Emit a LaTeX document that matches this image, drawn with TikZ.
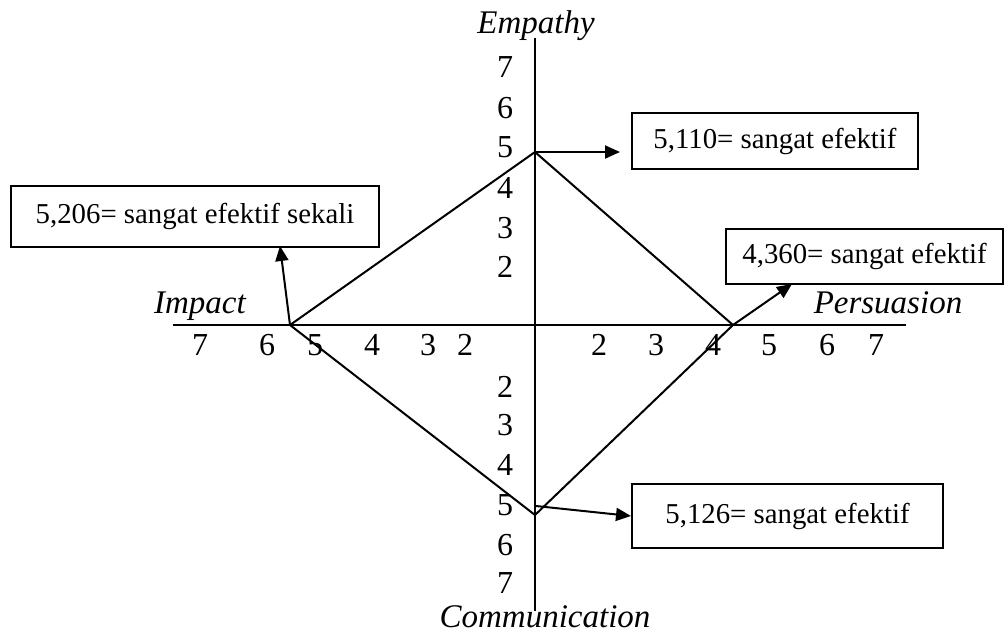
\documentclass[tikz,border=0pt]{standalone}
\usepackage{fontspec}
\setmainfont{Liberation Serif}
\usetikzlibrary{arrows.meta}

\tikzset{
box/.style={rectangle, draw=black, line width=1pt, anchor=north west,
font=\fontsize{14.4}{17}\selectfont, text centered, inner sep=0pt},
num/.style={font=\fontsize{16}{18}\selectfont, inner sep=0pt},
axisname/.style={font=\fontsize{16.5}{19}\selectfont\itshape, anchor=base, inner sep=0pt},
line/.style={line width=1pt},
pointer/.style={line width=1pt, -{Triangle[length=7.5pt,width=6.5pt]}}
}

\begin{document}
\begin{tikzpicture}[x=0.5pt, y=-0.5pt]
% 1px = 0.5pt, y grows downwards
\useasboundingbox (0, 0) rectangle (1008, 634);
\coordinate (yTop) at (535, 38);
\coordinate (yBot) at (535, 611);
\coordinate (xLeft) at (173, 325);
\coordinate (xRight) at (906, 325);
\draw[line] (yTop) -- (yBot);
\draw[line] (xLeft) -- (xRight);
	\draw (536, 33) node[axisname] (empathy) {Empathy};
	\draw (545, 627) node[axisname] (communication) {Communication};
	\draw (200, 313) node[axisname] (impact) {Impact};
	\draw (888, 313) node[axisname] (persuasion) {Persuasion};
% scale, upper half
	\draw (505, 67) node[num] (e7) {7};
	\draw (505, 108) node[num] (e6) {6};
	\draw (505, 147) node[num] (e5) {5};
	\draw (505, 188) node[num] (e4) {4};
	\draw (505, 228) node[num] (e3) {3};
	\draw (505, 267) node[num] (e2) {2};
% scale, lower half
	\draw (505, 387) node[num] (c2) {2};
	\draw (505, 425) node[num] (c3) {3};
	\draw (505, 465) node[num] (c4) {4};
	\draw (505, 505) node[num] (c5) {5};
	\draw (505, 545) node[num] (c6) {6};
	\draw (505, 583) node[num] (c7) {7};
% scale, left half
	\draw (200, 345) node[num] (i7) {7};
	\draw (267, 345) node[num] (i6) {6};
	\draw (315, 345) node[num] (i5) {5};
	\draw (372, 345) node[num] (i4) {4};
	\draw (428, 345) node[num] (i3) {3};
	\draw (465, 345) node[num] (i2) {2};
% scale, right half
	\draw (599, 345) node[num] (p2) {2};
	\draw (656, 345) node[num] (p3) {3};
	\draw (713, 345) node[num] (p4) {4};
	\draw (769, 345) node[num] (p5) {5};
	\draw (827, 345) node[num] (p6) {6};
	\draw (876, 345) node[num] (p7) {7};
% the four scores
\coordinate (ptE) at (535, 152);
\coordinate (ptP) at (733, 325);
\coordinate (ptC) at (535, 515);
\coordinate (ptI) at (290, 325);
\draw[line] (ptE) -- (ptP) -- (ptC) -- (ptI) -- cycle;
% value boxes
	\draw (631, 112) node[box, minimum width=143pt, minimum height=28pt] (boxE) {5,110= sangat efektif};
	\draw (10, 185) node[box, minimum width=184pt, minimum height=30.5pt] (boxI) {5,206= sangat efektif sekali};
	\draw (725, 228) node[box, minimum width=138.5pt, minimum height=27.5pt] (boxP) {4,360= sangat efektif};
	\draw (631, 483) node[box, minimum width=155.5pt, minimum height=32pt] (boxC) {5,126= sangat efektif};
\coordinate (tipI) at (280, 246);
\coordinate (tipP) at (792, 284);
\coordinate (startC) at (536, 506);
\draw[pointer, shorten >=5.5pt] (ptE) -- (ptE -| boxE.west);
\draw[pointer] (ptI) -- (tipI);
\draw[pointer] (ptP) -- (tipP);
\draw[pointer] (startC) -- (boxC.west);
\end{tikzpicture}
\end{document}
